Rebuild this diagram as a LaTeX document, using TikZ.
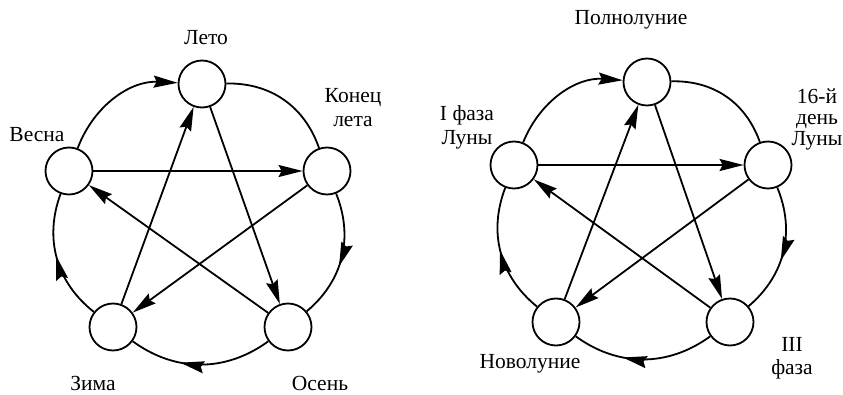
\documentclass[tikz,border=0pt]{standalone}
\usepackage{fontspec}
\setmainfont{Liberation Serif}
\usetikzlibrary{arrows.meta,decorations.markings}
\tikzset{
  phase/.style={circle,draw,line width=1.8pt,minimum size=47pt,inner sep=0pt},
  txt/.style={font=\fontsize{21.5}{24}\selectfont,align=center,inner sep=1pt},
  tip/.style={-{Stealth[length=24pt,width=12pt,inset=3pt]}},
  midtip/.style={postaction={decorate},decoration={markings,
    mark=at position #1 with {\arrow{Stealth[length=24pt,width=12pt,inset=3pt]}}}}
}
\begin{document}
\begin{tikzpicture}[x=1pt,y=-1pt,line width=1.8pt]
\useasboundingbox (0,0) rectangle (843,395);
% seasons
\node[phase] (leto) at (202,84) {};
\node[phase] (konec) at (327,171) {};
\node[phase] (osen) at (288,327) {};
\node[phase] (zima) at (113,327) {};
\node[phase] (vesna) at (69,171) {};
\node[txt] (tleto) at (206,38) {Лето};
\node[txt] (tkonec) at (353,108) {Конец\\лета};
\node[txt] (tosen) at (320,383) {Осень};
\node[txt] (tzima) at (93,383) {Зима};
\node[txt] (tvesna) at (37,135) {Весна};
\draw[tip] (vesna) to[bend left=36] (leto);
\draw (leto) to[bend left=36] (konec);
\draw[midtip=.57] (konec) to[bend left=36] (osen);
\draw[midtip=.64] (osen) to[bend left=36] (zima);
\draw[midtip=.52] (zima) to[bend left=36] (vesna);
\draw[tip] (vesna) -- (konec);
\draw[tip] (konec) -- (zima);
\draw[tip] (zima) -- (leto);
\draw[tip] (leto) -- (osen);
\draw[tip] (osen) -- (vesna);
% moon phases
\node[phase] (poln) at (647,82) {};
\node[phase] (den16) at (768,165) {};
\node[phase] (faza3) at (730,322) {};
\node[phase] (novol) at (556,322) {};
\node[phase] (faza1) at (514,165) {};
\node[txt] (tpoln) at (631,20) {Полнолуние};
\node[txt,font=\fontsize{21.5}{21}\selectfont] (tden16) at (817,119) {16-й\\день\\Луны};
\node[txt,font=\fontsize{21.5}{23}\selectfont] (tfaza3) at (792,358) {III\\фаза};
\node[txt] (tnovol) at (530,364) {Новолуние};
\node[txt] (tfaza1) at (467,127) {I фаза\\Луны};
\draw[tip] (faza1) to[bend left=36] (poln);
\draw (poln) to[bend left=36] (den16);
\draw[midtip=.57] (den16) to[bend left=36] (faza3);
\draw[midtip=.64] (faza3) to[bend left=36] (novol);
\draw[midtip=.52] (novol) to[bend left=36] (faza1);
\draw[tip] (faza1) -- (den16);
\draw[tip] (den16) -- (novol);
\draw[tip] (novol) -- (poln);
\draw[tip] (poln) -- (faza3);
\draw[tip] (faza3) -- (faza1);
\end{tikzpicture}
\end{document}
